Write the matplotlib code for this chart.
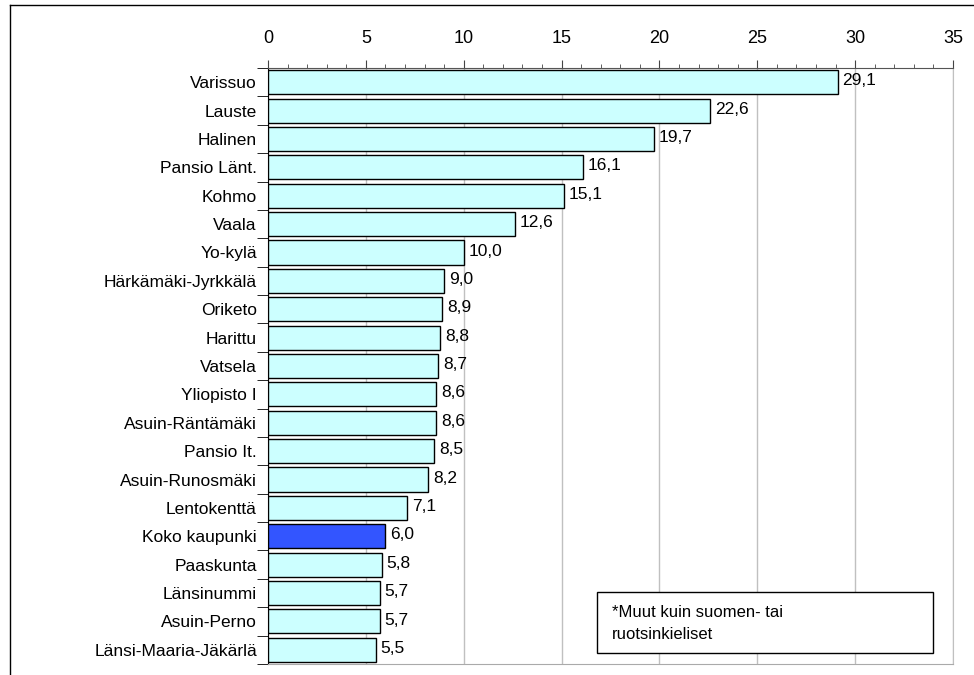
import numpy as np
import matplotlib.pyplot as plt
from matplotlib.lines import Line2D
from matplotlib.patches import Rectangle
from matplotlib.ticker import MultipleLocator

plt.rcParams['font.family'] = ['Liberation Sans', 'DejaVu Sans']

alueet = ["Varissuo", "Lauste", "Halinen", "Pansio Länt.", "Kohmo", "Vaala",
          "Yo-kylä", "Härkämäki-Jyrkkälä", "Oriketo", "Harittu", "Vatsela",
          "Yliopisto I", "Asuin-Räntämäki", "Pansio It.", "Asuin-Runosmäki",
          "Lentokenttä", "Koko kaupunki", "Paaskunta", "Länsinummi",
          "Asuin-Perno", "Länsi-Maaria-Jäkärlä"]
osuus = [29.1, 22.6, 19.7, 16.1, 15.1, 12.6, 10.0, 9.0, 8.9, 8.8, 8.7,
         8.6, 8.6, 8.5, 8.2, 7.1, 6.0, 5.8, 5.7, 5.7, 5.5]
huomio = "*Muut kuin suomen- tai\nruotsinkieliset"

fig = plt.figure(figsize=(9.74, 6.75), dpi=100)
ax = fig.add_axes([268/974, 1-664/675, 685/974, 596/675])

y = np.arange(len(alueet))
varit = ["#3355ff" if a == "Koko kaupunki" else "#ccffff" for a in alueet]
ax.barh(y, osuus, height=0.85, color=varit, edgecolor="black", linewidth=1, zorder=3)

for yi, v in zip(y, osuus):
    ax.text(v + 0.25, yi - 0.05, f"{v:.1f}".replace(".", ","), va="center",
            ha="left", fontsize=12.5, zorder=4)

ax.set_xlim(0, 35)
ax.set_ylim(len(alueet) - 0.5, -0.5)
ax.xaxis.tick_top()
ax.xaxis.set_major_locator(MultipleLocator(5))
ax.xaxis.set_minor_locator(MultipleLocator(1))
ax.tick_params(axis="x", which="major", direction="out", length=6, pad=9,
               labelsize=13, color="#444444")
ax.tick_params(axis="x", which="minor", direction="out", length=3, color="#444444")
ax.set_yticks(y)
ax.set_yticklabels(alueet, fontsize=12.5)
ax.set_yticks(np.arange(len(alueet) + 1) - 0.5, minor=True)
ax.tick_params(axis="y", which="major", length=0, pad=8)
ax.tick_params(axis="y", which="minor", length=8, direction="out", color="black")

ax.grid(axis="x", color="#c0c0c0", linewidth=1, zorder=0)
ax.spines["top"].set_color("#555555")
ax.spines["bottom"].set_color("#aaaaaa")
ax.spines["right"].set_color("#c0c0c0")
ax.spines["left"].set_color("black")

ax.add_patch(Rectangle((0.480, 0.018), 0.491, 0.103, transform=ax.transAxes,
                       facecolor="white", edgecolor="black", linewidth=1, zorder=5))
ax.text(0.502, 0.068, huomio, transform=ax.transAxes, va="center", ha="left",
        fontsize=12, linespacing=1.6, zorder=6)

fig.add_artist(Line2D([10/974, 10/974], [0, 1-5/675], color="black", linewidth=1))
fig.add_artist(Line2D([10/974, 1], [1-5/675, 1-5/675], color="black", linewidth=1))

fig.savefig("out.png", dpi=100)
